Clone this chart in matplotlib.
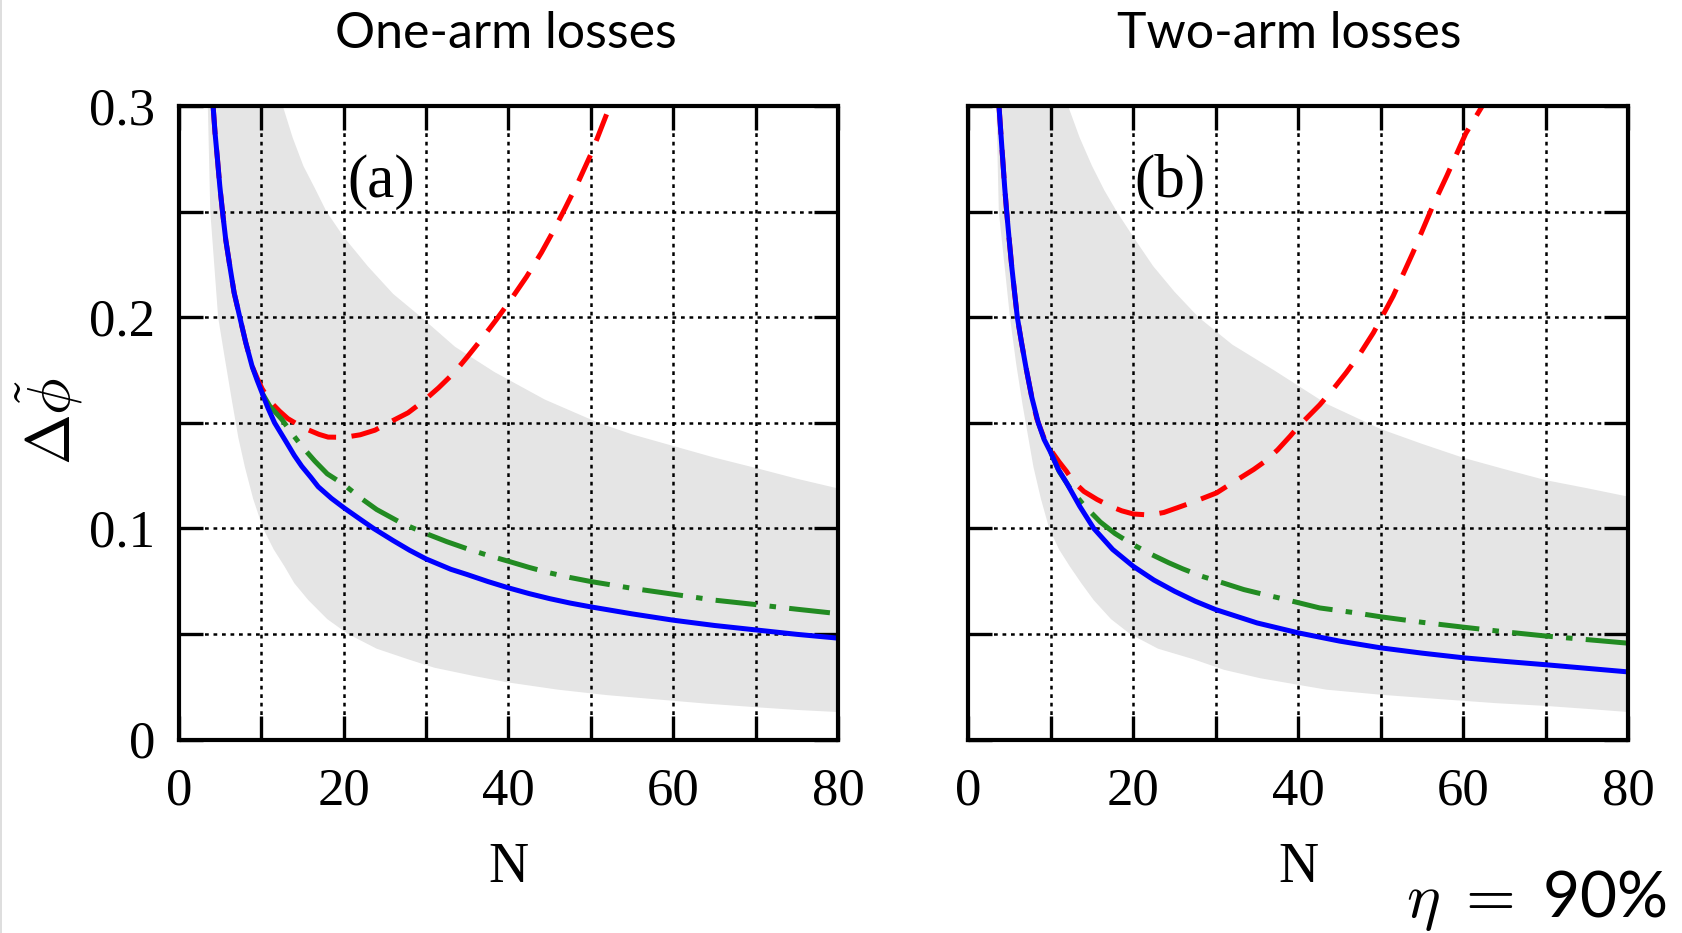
import matplotlib
matplotlib.use("Agg")
import matplotlib.pyplot as plt
from matplotlib.lines import Line2D

plt.rcParams["mathtext.fontset"] = "cm"

# ---------------- data ----------------
x_major = [0, 20, 40, 60, 80]
x_minor = [10, 30, 50, 70]
y_major = [0, 0.1, 0.2, 0.3]
y_minor = [0.05, 0.15, 0.25]
y_ticklabels = ["0", "0.1", "0.2", "0.3"]

# (a) one-arm losses
a_blue_n = [4.14, 4.38, 4.67, 4.95, 5.28, 5.68, 6.17, 6.69, 7.38, 8.1, 8.87, 9.5, 10.1, 10.8,
            11.6, 12.3, 13.0, 14.0, 14.9, 16.0, 16.9, 18.5, 20.1, 22.0, 23.6, 26, 28, 30, 33,
            35, 37.5, 40, 42.5, 45, 47.5, 50, 55, 60, 65, 70, 75, 80]
a_blue = [0.30, 0.287, 0.2748, 0.2622, 0.25, 0.2365, 0.2242, 0.2116, 0.20, 0.188, 0.1768,
          0.170, 0.164, 0.157, 0.150, 0.1455, 0.141, 0.1345, 0.1294, 0.1242, 0.1197, 0.1142,
          0.1095, 0.1043, 0.100, 0.0942, 0.0896, 0.0855, 0.0806, 0.0781, 0.0748, 0.0718,
          0.0691, 0.0667, 0.0646, 0.0628, 0.0595, 0.0565, 0.054, 0.0519, 0.0498, 0.048]
a_green_n = [10.1, 11.0, 12.5, 13.7, 14.9, 16.5, 18, 20, 22, 24, 27, 30, 32.5, 35, 37.5, 40,
             42.5, 45, 47.5, 50, 55, 60, 65, 70, 75, 80]
a_green = [0.164, 0.158, 0.1515, 0.145, 0.1389, 0.1318, 0.1258, 0.1208, 0.1145, 0.1089, 0.1025,
           0.0975, 0.0937, 0.0903, 0.0872, 0.0844, 0.0815, 0.0789, 0.0767, 0.0748, 0.0716,
           0.0688, 0.066, 0.0639, 0.0617, 0.0596]
a_red_n = [4.14, 4.38, 4.67, 4.95, 5.28, 5.68, 6.17, 6.69, 7.38, 8.1, 8.87, 9.5, 10.1, 11.2,
           12.2, 13.2, 15.1, 17.0, 18.1, 20.1, 22.0, 23.8, 25.2, 27.8, 29.6, 31.5, 33.4, 35.0,
           36.7, 38.5, 40.3, 42.2, 44.0, 45.4, 46.8, 48.5, 50.1, 51.2, 52.3]
a_red = [0.30, 0.287, 0.2748, 0.2622, 0.25, 0.2365, 0.2242, 0.2116, 0.20, 0.188, 0.1768, 0.171,
         0.166, 0.1595, 0.1555, 0.152, 0.1476, 0.1445, 0.1432, 0.1431, 0.1443, 0.1465, 0.1495,
         0.1547, 0.160, 0.1665, 0.1737, 0.1812, 0.1895, 0.1987, 0.2084, 0.2192, 0.2306, 0.2405,
         0.251, 0.2643, 0.278, 0.289, 0.30]
a_upper_n = [3.5, 12.6, 13.8, 15.1, 16.5, 17.9, 20, 22.9, 26, 29.4, 33.5, 38.3, 44.4, 50.9, 55,
             60, 65, 70, 75, 80]
a_upper = [0.30, 0.30, 0.285, 0.2716, 0.261, 0.25, 0.238, 0.2242, 0.211, 0.20, 0.186, 0.174,
           0.161, 0.15, 0.1445, 0.139, 0.1335, 0.1286, 0.1235, 0.1189]
a_lower_n = [3.5, 3.8, 4.75, 5.5, 6.4, 7.2, 8.0, 9.0, 10.2, 11.5, 12.8, 14.0, 15.7, 18.0, 20.5,
             24.0, 27.8, 31.0, 35.9, 40.0, 46.0, 52.0, 58.0, 64.0, 70.0, 75.0, 80.0]
a_lower = [0.30, 0.25, 0.20, 0.182, 0.161, 0.143, 0.129, 0.114, 0.100, 0.090, 0.082, 0.074,
           0.066, 0.057, 0.050, 0.043, 0.038, 0.034, 0.030, 0.027, 0.0236, 0.021, 0.019, 0.017,
           0.0153, 0.014, 0.013]

# (b) two-arm losses
b_blue_n = [3.72, 3.95, 4.17, 4.4, 4.65, 4.95, 5.26, 5.6, 5.94, 6.45, 7.0, 7.7, 8.48, 9.2, 9.98,
            10.9, 11.9, 13.5, 15.2, 17.5, 20, 22.5, 25, 27.5, 30, 35, 40, 45, 50, 55, 60, 65,
            70, 75, 80]
b_blue = [0.30, 0.287, 0.2748, 0.262, 0.25, 0.237, 0.2242, 0.212, 0.20, 0.188, 0.176, 0.162,
          0.15, 0.142, 0.136, 0.128, 0.1216, 0.1105, 0.10, 0.09, 0.082, 0.0755, 0.0702, 0.0655,
          0.0615, 0.0552, 0.0505, 0.0466, 0.0434, 0.0409, 0.0387, 0.037, 0.0354, 0.0337, 0.032]
b_green_n = [10.0, 11.0, 12.3, 14.0, 16.0, 17.8, 19.6, 22.0, 24.3, 26.0, 28.3, 31.0, 33.4, 35.5,
             37.6, 40.0, 42.6, 46.9, 50, 55, 60, 65, 70, 75, 80]
b_green = [0.136, 0.127, 0.1192, 0.111, 0.103, 0.0975, 0.0931, 0.088, 0.0837, 0.0808, 0.0773,
           0.074, 0.071, 0.069, 0.0671, 0.0648, 0.0623, 0.06, 0.0581, 0.0555, 0.0532, 0.051,
           0.049, 0.0473, 0.0456]
b_red_n = [3.72, 3.95, 4.17, 4.4, 4.65, 4.95, 5.26, 5.6, 5.94, 6.45, 7.0, 7.7, 8.3, 9.2, 10.0,
           11.0, 11.9, 12.7, 14.0, 15.6, 17.2, 18.6, 20, 22, 23.7, 25.3, 27.3, 30.1, 31.7, 34.6,
           36, 37.5, 39, 40.2, 42.6, 44.2, 45.8, 47.5, 49.1, 51.5, 53.9, 56.3, 58, 60.3, 62.3]
b_red = [0.30, 0.287, 0.2748, 0.262, 0.25, 0.237, 0.2242, 0.212, 0.20, 0.188, 0.176, 0.162,
         0.152, 0.1425, 0.137, 0.1315, 0.127, 0.1223, 0.1175, 0.1137, 0.1105, 0.1083, 0.1068,
         0.1063, 0.1075, 0.1097, 0.1125, 0.1168, 0.1208, 0.1279, 0.1318, 0.1372, 0.1436,
         0.149, 0.1585, 0.1658, 0.1737, 0.1828, 0.1926, 0.21, 0.2306, 0.2527, 0.2669, 0.287,
         0.30]
b_upper_n = [3.4, 12.1, 13.5, 15.0, 16.5, 18.0, 20.0, 22.4, 25.0, 27.9, 32.0, 37.0, 43.4, 50,
             55, 60, 65, 70, 75, 80]
b_upper = [0.30, 0.30, 0.285, 0.2716, 0.26, 0.25, 0.238, 0.2242, 0.212, 0.20, 0.187, 0.175,
           0.159, 0.147, 0.14, 0.1334, 0.128, 0.1228, 0.119, 0.115]
b_lower_n = [3.4, 3.7, 5.05, 5.8, 6.6, 7.9, 8.8, 9.8, 11.0, 12.3, 13.7, 15.2, 17.3, 19.6, 23.0,
             27.3, 31.0, 35.4, 43.4, 50, 57.6, 64, 70, 75, 80]
b_lower = [0.30, 0.25, 0.20, 0.178, 0.158, 0.129, 0.114, 0.100, 0.090, 0.082, 0.074, 0.066,
           0.057, 0.050, 0.043, 0.038, 0.033, 0.029, 0.0236, 0.0212, 0.019, 0.0172, 0.0159,
           0.0145, 0.013]

panels = [
    dict(title="One-arm losses", tag="(a)", blue=(a_blue_n, a_blue), green=(a_green_n, a_green),
         red=(a_red_n, a_red), upper=(a_upper_n, a_upper), lower=(a_lower_n, a_lower)),
    dict(title="Two-arm losses", tag="(b)", blue=(b_blue_n, b_blue), green=(b_green_n, b_green),
         red=(b_red_n, b_red), upper=(b_upper_n, b_upper), lower=(b_lower_n, b_lower)),
]

# ---------------- styling ----------------
SERIF = "Liberation Serif"
SANS = "Lato"
FILL = "#e5e5e5"
BLUE = "#0000ff"
RED = "#ff0000"
GREEN = "#228b22"
LW = 3.6

W, H = 1683, 933
fig = plt.figure(figsize=(W / 100, H / 100), dpi=100)
fig.patch.set_facecolor("white")

rects = [(179 / W, 1 - 739.5 / H, 659 / W, 633.5 / H),
         (968.3 / W, 1 - 739.5 / H, 660 / W, 633.5 / H)]
title_x = [505.6 / W, 1289.6 / W]

for i, (p, rect) in enumerate(zip(panels, rects)):
    ax = fig.add_axes(rect)
    ax.set_xlim(0, 80)
    ax.set_ylim(0, 0.3)

    # shaded band between the two bounds
    un, uy = p["upper"]
    ln, ly = p["lower"]
    ax.fill(list(un) + list(ln[::-1]), list(uy) + list(ly[::-1]),
            color=FILL, lw=0, zorder=1)

    ax.plot(*p["red"], color=RED, lw=LW, linestyle=(0, (5.7, 3.1)),
            dash_capstyle="butt", zorder=2)
    ax.plot(*p["green"], color=GREEN, lw=LW, linestyle=(0, (8.2, 2.65, 1.3, 2.65)),
            dash_capstyle="butt", zorder=2.1)
    ax.plot(*p["blue"], color=BLUE, lw=LW, solid_capstyle="butt",
            solid_joinstyle="round", zorder=2.2)

    ax.set_xticks(x_major)
    ax.set_xticks(x_minor, minor=True)
    ax.set_yticks(y_major)
    ax.set_yticks(y_minor, minor=True)
    ax.set_xticklabels([str(v) for v in x_major], fontfamily=SERIF, fontsize=38)
    if i == 0:
        ax.set_yticklabels(y_ticklabels, fontfamily=SERIF, fontsize=38)
    else:
        ax.set_yticklabels([])

    ax.tick_params(which="both", direction="in", length=17, width=2.4,
                   top=True, right=True, color="black")
    ax.tick_params(axis="x", which="both", pad=20)
    ax.tick_params(axis="y", which="both", pad=17)
    ax.grid(True, which="both", color="black", linestyle=(0, (1.5, 1.9)), linewidth=1.8)

    for s in ax.spines.values():
        s.set_linewidth(3)
        s.set_color("black")
        s.set_zorder(3)

    ax.set_xlabel("N", fontfamily=SERIF, fontsize=40)
    ax.xaxis.set_label_coords(0.5, -0.162)

    ax.text(24.5, 0.264, p["tag"], fontfamily=SERIF, fontsize=44,
            ha="center", va="center", zorder=4)

    fig.text(title_x[i], 1 - 48.3 / H, p["title"], fontfamily=SANS, fontsize=36,
             ha="center", va="baseline")

fig.text(49 / W, 1 - 421 / H, r"$\Delta\tilde{\phi}$", fontsize=44, rotation=90,
         ha="center", va="center")

fig.text(1667 / W, 1 - 917 / H, r"$\eta$ $=$ 90%", fontfamily=SANS, fontsize=46,
         ha="right", va="baseline")

# thin frame line along the left edge of the canvas
fig.add_artist(Line2D([1.5 / W, 1.5 / W], [0, 1], transform=fig.transFigure,
                      color="#d8d8d8", lw=1.2))

fig.savefig("out.png", dpi=100, facecolor="white")
